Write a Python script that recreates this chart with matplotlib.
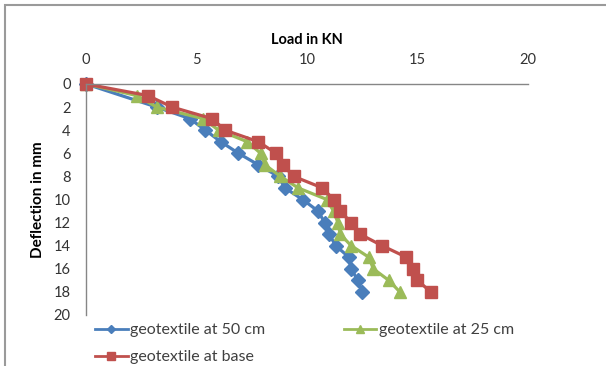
import matplotlib.pyplot as plt
from matplotlib.patches import Rectangle
from matplotlib.lines import Line2D

plt.rcParams["font.family"] = ["Lato", "DejaVu Sans"]

# deflection (mm) and load (kN) for each geotextile position
defl_50 = [0, 2, 3, 4, 5, 6, 7, 8, 9, 10, 11, 12, 13, 14, 15, 16, 17, 18]
load_50 = [0, 3.2, 4.7, 5.4, 6.1, 6.9, 7.8, 8.7, 9.0, 9.8, 10.5, 10.8, 11.0,
           11.3, 11.9, 12.0, 12.3, 12.5]

defl_25 = [0, 1, 2, 3, 4, 5, 6, 7, 8, 9, 10, 11, 12, 13, 14, 15, 16, 17, 18]
load_25 = [0, 2.3, 3.2, 5.3, 6.0, 7.3, 7.9, 8.1, 8.8, 9.6, 10.9, 11.2, 11.4,
           11.5, 12.0, 12.8, 13.0, 13.7, 14.2]

defl_base = [0, 1, 2, 3, 4, 5, 6, 7, 8, 9, 10, 11, 12, 13, 14, 15, 16, 17, 18]
load_base = [0, 2.8, 3.9, 5.7, 6.3, 7.8, 8.6, 8.9, 9.4, 10.7, 11.2, 11.5, 12.0,
             12.4, 13.4, 14.5, 14.8, 15.0, 15.6]

BLUE = "#4A7EBB"
GREEN = "#9BBB59"
RED = "#C0504D"
AXIS_GRAY = "#868686"


def main() -> None:
    fig = plt.figure(figsize=(6.06, 3.66), dpi=100)
    ax = fig.add_axes([86 / 606, 1 - 315 / 366, (528 - 86) / 606, (315 - 84) / 366])

    ax.plot(load_50, defl_50, color=BLUE, lw=2.3, marker="D", ms=7,
            label="geotextile at 50 cm", clip_on=False)
    ax.plot(load_25, defl_25, color=GREEN, lw=2.3, marker="^", ms=8.5,
            label="geotextile at 25 cm", clip_on=False)
    ax.plot(load_base, defl_base, color=RED, lw=2.3, marker="s", ms=8.5,
            label="geotextile at base", clip_on=False)

    ax.set_xlim(0, 20)
    ax.set_ylim(20, 0)
    ax.set_xticks(range(0, 21, 5))
    ax.set_yticks(range(0, 21, 2))
    ax.xaxis.tick_top()
    ax.xaxis.set_label_position("top")
    ax.tick_params(axis="both", length=0, labelsize=10.5, colors="#333333")
    ax.tick_params(axis="x", pad=12)
    ax.tick_params(axis="y", pad=11)

    for side in ["right", "bottom"]:
        ax.spines[side].set_visible(False)
    for side in ["left", "top"]:
        ax.spines[side].set_color(AXIS_GRAY)
        ax.spines[side].set_linewidth(1)
    ax.patch.set_alpha(0)

    ax.set_xlabel("Load in KN", fontsize=10.5, fontweight="bold", labelpad=7)
    ax.set_ylabel("Deflection in mm", fontsize=11, fontweight="bold", labelpad=6)

    # legend: row-major layout with three entries in two columns
    handles = [
        Line2D([], [], color=BLUE, lw=2, marker="D", ms=4),
        Line2D([], [], color=RED, lw=2, marker="s", ms=6),
        Line2D([], [], color=GREEN, lw=2, marker="^", ms=6),
    ]
    labels = ["geotextile at 50 cm", "geotextile at base", "geotextile at 25 cm"]
    fig.legend(handles, labels, ncol=2, loc="upper left",
               bbox_to_anchor=(95 / 606, 1 - 323 / 366), frameon=False,
               fontsize=11.5, handlelength=2.05, handletextpad=0.15,
               columnspacing=4.9, labelspacing=0.8, borderaxespad=0,
               borderpad=0, labelcolor="#404040")

    fig.patches.append(Rectangle((5 / 606, -0.05), 1.2, 1.05 - 5 / 366,
                                 transform=fig.transFigure, fill=False,
                                 edgecolor="#9a9a9a", lw=1.5))

    fig.savefig("out.png", dpi=100)
    plt.close(fig)


if __name__ == "__main__":
    main()
